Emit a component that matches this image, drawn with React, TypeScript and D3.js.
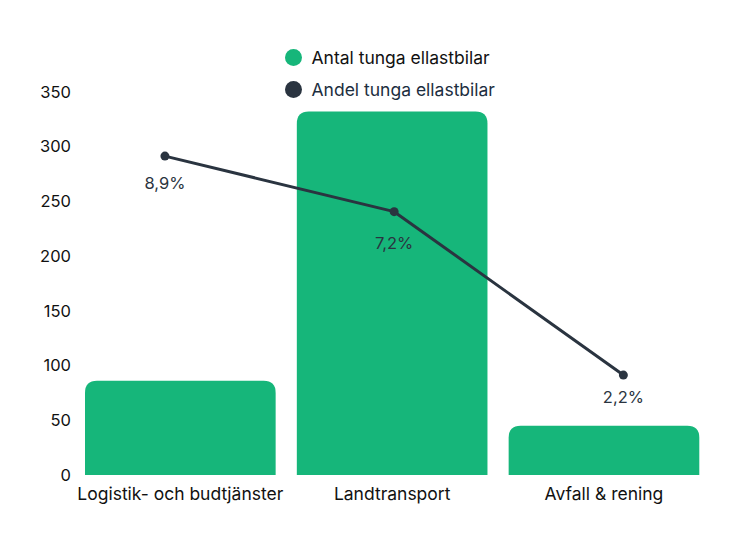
import React from "react";
import * as d3 from "d3";

const categories = ["Logistik- och budtjänster", "Landtransport", "Avfall & rening"];
const antal = [86, 332, 45];
const andel = [8.9, 7.2, 2.2];
const andelLabels = ["8,9%", "7,2%", "2,2%"];
const yTicks = [0, 50, 100, 150, 200, 250, 300, 350];
const legendItems = [
  { label: "Antal tunga ellastbilar", color: "#16b67a", text: "#111111" },
  { label: "Andel tunga ellastbilar", color: "#2a3440", text: "#1c2e40" },
];

const W = 746;
const H = 560;
const FONT = "Inter, 'Noto Sans', sans-serif";
const LABEL_OFFSETS = [27, 31, 22];

export default function App() {
  const x = d3.scaleBand<string>().domain(categories).range([85, 699.3]).paddingInner(0.1).paddingOuter(0);
  const xp = d3.scalePoint<string>().domain(categories).range([87, 701.3]).padding(0.34);
  const y = d3.scaleLinear().domain([0, 350]).range([475, 91.7]);
  const y2 = d3.scaleLinear().domain([0, 10.87]).range([447, 91.7]);
  const r = 12;

  const barPath = (x0: number, x1: number, yt: number, yb: number) => {
    const rr = Math.min(r, (yb - yt) / 2);
    return `M${x0},${yb}V${yt + rr}Q${x0},${yt} ${x0 + rr},${yt}H${x1 - rr}Q${x1},${yt} ${x1},${yt + rr}V${yb}Z`;
  };

  const line = d3
    .line<number>()
    .x((_, i) => xp(categories[i]) as number)
    .y((d) => y2(d));

  return (
    <svg width={W} height={H} style={{ position: "absolute", left: 0, top: 0 }} fontFamily={FONT}>
      {yTicks.map((t) => (
        <text key={t} x={71} y={y(t)} textAnchor="end" dominantBaseline="central" fontSize={16.5} fill="#111">
          {t}
        </text>
      ))}
      {antal.map((v, i) => {
        const x0 = x(categories[i]) as number;
        return <path key={i} d={barPath(x0, x0 + x.bandwidth(), y(v), y(0))} fill="#16b67a" />;
      })}
      {categories.map((c) => (
        <text key={c} x={(x(c) as number) + x.bandwidth() / 2} y={493} textAnchor="middle" dominantBaseline="central" fontSize={17.5} fill="#111">
          {c}
        </text>
      ))}
      <path d={line(andel) as string} fill="none" stroke="#2a3440" strokeWidth={3} strokeLinejoin="round" />
      {andel.map((v, i) => (
        <g key={i}>
          <circle cx={xp(categories[i]) as number} cy={y2(v)} r={4.5} fill="#2a3440" />
          <text x={xp(categories[i]) as number} y={y2(v) + LABEL_OFFSETS[i]} textAnchor="middle" dominantBaseline="central" fontSize={16.5} fill="#2a3440">
            {andelLabels[i]}
          </text>
        </g>
      ))}
      {legendItems.map((l, i) => (
        <g key={l.label}>
          <circle cx={293.5} cy={57.5 + i * 32} r={8.5} fill={l.color} />
          <text x={311.5} y={57.5 + i * 32} dominantBaseline="central" fontSize={17.5} fill={l.text}>
            {l.label}
          </text>
        </g>
      ))}
    </svg>
  );
}
